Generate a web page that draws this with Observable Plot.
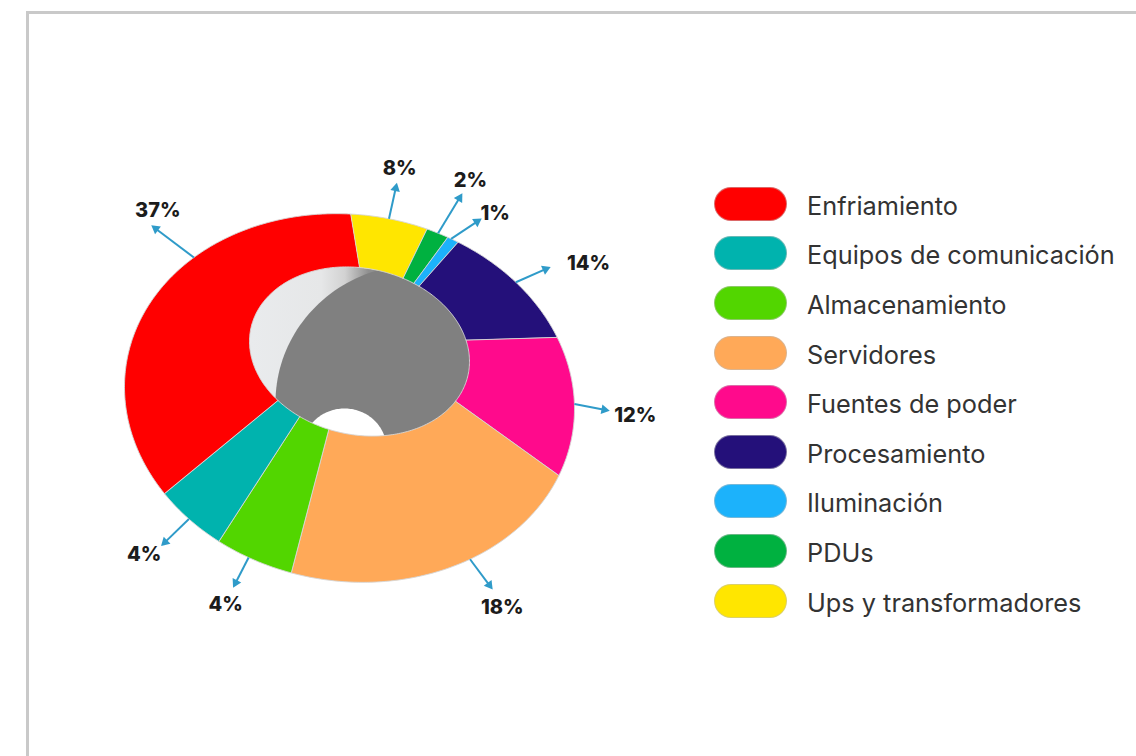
<!DOCTYPE html>
<html lang="es">
<head>
<meta charset="utf-8">
<title>Consumo por componente</title>
<script src="https://cdn.jsdelivr.net/npm/d3@7"></script>
<script src="https://cdn.jsdelivr.net/npm/@observablehq/plot@0.6"></script>
<style>
  html, body { margin: 0; background: #fff; overflow: hidden; }
  #page { position: relative; width: 1136px; height: 756px; overflow: hidden; }
  #frame { position: absolute; left: 26px; top: 11px; width: 1300px; height: 1000px;
           border: 3px solid #c9c9c9; }
  #chart { position: absolute; left: 0; top: 0; }
  #legend { position: absolute; left: 714px; top: 179px; margin: 0; padding: 0; list-style: none;
            font-family: Inter, sans-serif; font-size: 25.3px; color: #333; }
  #legend li { display: flex; align-items: center; height: 49.6px; }
  #legend i { display: block; width: 71px; height: 32px; border-radius: 17px;
              border: 1px solid rgba(190,190,190,.55); margin-right: 20px; }
  #legend span { position: relative; top: 1.5px; }
</style>
</head>
<body>
<div id="page">
  <div id="frame"></div>
  <div id="chart"></div>
  <ul id="legend"></ul>
</div>
<script>
const categories = ["Enfriamiento", "Equipos de comunicación", "Almacenamiento", "Servidores",
  "Fuentes de poder", "Procesamiento", "Iluminación", "PDUs", "Ups y transformadores"];
const shares = [37, 4, 4, 18, 12, 14, 1, 2, 8];
const colors = ["#ff0000", "#00b3ae", "#52d600", "#ffa958", "#ff0a8c", "#24107a", "#1cb2fb", "#00b140", "#ffe600"];

// Leader lines: along-rim shift, run past the rim, turn off the radial, label offset from the tip.
const leaderShift = [-4.6, 0, -0.3, 1.1, -0.6, 0.5, 0.15, -0.1, -0.2];
const leaderReach = [0.228, 0.165, 0.15, 0.16, 0.135, 0.16, 0.165, 0.22, 0.17];
const leaderTurn = [-5, -7, -5, 0, 9, 11, 24, 3, 0];
const labelDx = [2, -21, -10, 13, 31, 43, 18, 11, 4];
const labelDy = [-18, 12, 22, 23, 6, -6, -8, -17, -20];

// Rim and hole of the tilted ring, in plot units.
const rim = {cx: 349, cy: 397.5, rx: 225, ry: 184, skew: 11};
const hole = {cx: 359, cy: 351, rx: 110, ry: 84, skew: 10};
const rad = Math.PI / 180;

// Foreshortening of the tilted ring: front slices open up, far ones close.
function foreshorten(a) {
  const r = a * rad;
  return -5.3 + 3.91 * Math.cos(r) - 16.07 * Math.sin(r) + 1.51 * Math.cos(2 * r)
    + 2.67 * Math.sin(2 * r) + 0.88 * Math.cos(3 * r) - 0.83 * Math.sin(3 * r)
    + 2 * Math.sin(4 * (r - 220 * rad));
}

function onEllipse(e, degrees) {
  const r = degrees * rad;
  return [e.cx + e.rx * Math.sin(r), e.cy - e.ry * Math.cos(r) + e.skew * Math.sin(r)];
}

// Slices run counter-clockwise from the top; `position` is the running percentage.
const angleOf = (position) => 360 - position * 3.6;
const rimPoint = (position) => {
  const a = angleOf(position);
  return onEllipse(rim, a + foreshorten(a));
};
const holePoint = (position) => {
  const a = angleOf(position), d = foreshorten(a);
  return onEllipse(hole, a + (d < 0 ? 0.65 * d : 0.1 * d));
};

const starts = d3.cumsum([0, ...shares]);

const sliceFeatures = categories.map((category, i) => {
  const from = starts[i], to = starts[i + 1];
  const steps = Math.max(2, Math.ceil((to - from) * 4));
  const positions = d3.range(steps + 1).map((k) => from + (to - from) * k / steps);
  const outline = [...positions.map(rimPoint), ...positions.slice().reverse().map(holePoint)];
  outline.push(outline[0]);
  return {type: "Feature", properties: {category}, geometry: {type: "Polygon", coordinates: [outline]}};
});

const ellipsePolygon = (e) => ({
  type: "Polygon",
  coordinates: [d3.range(0, 361, 2).map((a) => onEllipse(e, a))]
});

// What shows through the hole: the shaded far wall, the grey core and the white gap.
const wall = ellipsePolygon(hole);
const core = ellipsePolygon({cx: 418, cy: 402, rx: 143, ry: 138, skew: 0});
const gap = ellipsePolygon({cx: 344, cy: 448, rx: 42, ry: 40, skew: 0});

const leaders = categories.map((category, i) => {
  const mid = starts[i] + shares[i] / 2 + leaderShift[i];
  const [x1, y1] = rimPoint(mid);
  const turn = leaderTurn[i] * rad;
  const ox = (x1 - rim.cx) * leaderReach[i], oy = (y1 - rim.cy) * leaderReach[i];
  const x2 = x1 + ox * Math.cos(turn) - oy * Math.sin(turn);
  const y2 = y1 + ox * Math.sin(turn) + oy * Math.cos(turn);
  const heading = Math.atan2(x2 - x1, y1 - y2) / rad;
  return {category, x1, y1, x2, y2, heading, lx: x2 + labelDx[i], ly: y2 + labelDy[i], label: `${shares[i]}%`};
});

function wallShade() {
  const defs = d3.create("svg:defs");
  const g = defs.append("linearGradient").attr("id", "wallShade")
    .attr("gradientUnits", "userSpaceOnUse")
    .attr("x1", 250).attr("x2", 368).attr("y1", 0).attr("y2", 0);
  [[0, "#e9ebed"], [0.6, "#e6e7e8"], [0.8, "#d2d2d2"], [1, "#8f8f8f"]].forEach(([o, c]) =>
    g.append("stop").attr("offset", o).attr("stop-color", c));
  return defs.node();
}

const chart = Plot.plot({
  width: 690,
  height: 756,
  margin: 0,
  style: {background: "transparent"},
  projection: {stream: (s) => s},
  color: {domain: categories, range: colors},
  marks: [
    wallShade,
    Plot.geo([wall], {fill: "url(#wallShade)"}),
    Plot.geo([core], {fill: "#808080"}),
    Plot.geo([gap], {fill: "#ffffff"}),
    Plot.geo(sliceFeatures, {fill: (d) => d.properties.category, stroke: "#d6d6d6", strokeWidth: 0.9}),
    Plot.link(leaders, {x1: "x1", y1: "y1", x2: "x2", y2: "y2", stroke: "#2f9bc9", strokeWidth: 2}),
    Plot.dot(leaders, {x: "x2", y: "y2", symbol: "triangle", r: 3.6, rotate: "heading", fill: "#2f9bc9", stroke: "none"}),
    Plot.text(leaders, {
      x: "lx", y: "ly", text: "label",
      fontFamily: "Inter, sans-serif", fontWeight: 800, fontSize: 20, fill: "#1c1c1c"
    })
  ]
});
document.getElementById("chart").append(chart);

// Legend swatches come from the same categories and colours as the slices.
d3.select("#legend").selectAll("li").data(categories).join("li")
  .call((li) => li.append("i").style("background", (d, i) => colors[i]))
  .call((li) => li.append("span").text((d) => d));
</script>
</body>
</html>
